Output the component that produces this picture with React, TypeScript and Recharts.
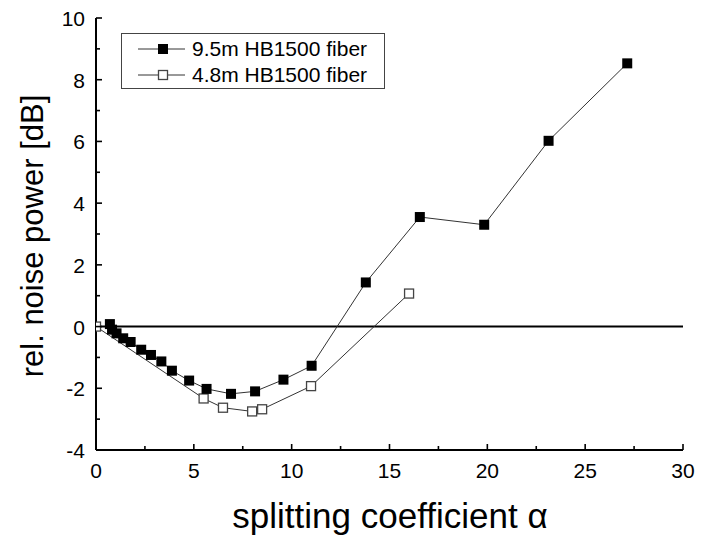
import React from "react";
import { LineChart, Line, XAxis, YAxis, ReferenceLine, Legend } from "recharts";

// splitting coefficient alpha / relative noise power [dB]
const longFiberAlpha = [0.71, 0.82, 1.05, 1.39, 1.77, 2.31, 2.81, 3.34, 3.88, 4.76, 5.65, 6.9, 8.13, 9.58, 11.02, 13.79, 16.55, 19.84, 23.13, 27.15];
const longFiberNoise = [0.08, -0.1, -0.22, -0.38, -0.5, -0.75, -0.92, -1.13, -1.43, -1.75, -2.02, -2.18, -2.1, -1.72, -1.27, 1.43, 3.55, 3.3, 6.02, 8.53];
const shortFiberAlpha = [0, 5.5, 6.49, 7.98, 8.49, 10.99, 16.0];
const shortFiberNoise = [0, -2.33, -2.63, -2.75, -2.68, -1.93, 1.07];

const X_TICKS = [0, 2.5, 5, 7.5, 10, 12.5, 15, 17.5, 20, 22.5, 25, 27.5, 30];
const Y_TICKS = [-4, -3, -2, -1, 0, 1, 2, 3, 4, 5, 6, 7, 8, 9, 10];

const SERIES_NAMES = ["9.5m HB1500 fiber", "4.8m HB1500 fiber"];

const longFiber = longFiberAlpha.map((x, i) => ({ x, y: longFiberNoise[i] }));
const shortFiber = shortFiberAlpha.map((x, i) => ({ x, y: shortFiberNoise[i] }));

const FONT = '"Liberation Sans", Arial, Helvetica, sans-serif';

const FilledSquare = (props: any) => {
  const { cx, cy } = props;
  if (cx == null || cy == null) return null;
  return <rect x={cx - 5} y={cy - 5} width={10} height={10} fill="#000" />;
};

const OpenSquare = (props: any) => {
  const { cx, cy } = props;
  if (cx == null || cy == null) return null;
  return <rect x={cx - 4.5} y={cy - 4.5} width={9} height={9} fill="#fff" stroke="#444" strokeWidth={1.3} />;
};

// ticks point inward; labels only on major ticks
const BottomTick = (props: any) => {
  const { x, y, payload } = props;
  const major = payload.value % 5 === 0;
  const len = major ? 6 : 4;
  return (
    <g>
      <path d={`M${x},${y}V${y - len}`} stroke="#000" strokeWidth={1.6} fill="none" />
      {major && (
        <text x={x} y={y + 28} textAnchor="middle" fontSize={21} fontFamily={FONT} fill="#000">
          {payload.value}
        </text>
      )}
    </g>
  );
};

const TopTick = (props: any) => {
  const { x, y, payload } = props;
  const len = payload.value % 5 === 0 ? 6 : 4;
  return <path d={`M${x},${y}V${Number(y) + len}`} stroke="#000" strokeWidth={1.6} fill="none" />;
};

const LeftTick = (props: any) => {
  const { x, y, payload } = props;
  const major = payload.value % 2 === 0;
  const len = major ? 6 : 4;
  return (
    <g>
      <path d={`M${x},${y}H${Number(x) + len}`} stroke="#000" strokeWidth={1.6} fill="none" />
      {major && (
        <text x={x - 11} y={Number(y) + 8} textAnchor="end" fontSize={21} fontFamily={FONT} fill="#000">
          {payload.value}
        </text>
      )}
    </g>
  );
};

const RightTick = (props: any) => {
  const { x, y, payload } = props;
  const len = payload.value % 2 === 0 ? 6 : 4;
  return <path d={`M${x},${y}H${x - len}`} stroke="#000" strokeWidth={1.6} fill="none" />;
};

const renderLegend = () => (
  <div
    style={{
      width: 264,
      height: 56,
      border: "1px solid #444",
      background: "#fff",
      fontFamily: FONT,
      fontSize: 21,
      color: "#000",
      boxSizing: "border-box",
    }}
  >
    {SERIES_NAMES.map((name, i) => (
      <div key={name} style={{ display: "flex", alignItems: "center", height: 26, marginTop: i === 0 ? 2 : 0 }}>
        <svg width={70} height={26} style={{ display: "block" }}>
          <line x1={16} y1={13} x2={63} y2={13} stroke="#333" strokeWidth={1} />
          {i === 0 ? (
            <rect x={36} y={8} width={10} height={10} fill="#000" />
          ) : (
            <rect x={36.5} y={8.5} width={9} height={9} fill="#fff" stroke="#444" strokeWidth={1.3} />
          )}
        </svg>
        <span style={{ lineHeight: "26px" }}>{name}</span>
      </div>
    ))}
  </div>
);

const XTitle = () => (
  <text x={390} y={528} textAnchor="middle" fontSize={35} fontFamily={FONT} fill="#000">
    splitting coefficient α
  </text>
);

const YTitle = () => (
  <text
    x={43}
    y={236}
    transform="rotate(-90 43 236)"
    textAnchor="middle"
    fontSize={31}
    fontFamily={FONT}
    fill="#000"
  >
    rel. noise power [dB]
  </text>
);

export default function App() {
  return (
    <div style={{ position: "absolute", left: 0, top: 0, background: "#fff" }}>
      <LineChart width={701} height={539} margin={{ top: 18, right: 18, bottom: 0, left: 0 }}>
        <XAxis
          dataKey="x"
          type="number"
          domain={[0, 30]}
          allowDataOverflow
          ticks={X_TICKS}
          interval={0}
          height={89}
          tickSize={0}
          tickMargin={0}
          tickLine={false}
          tick={<BottomTick />}
          axisLine={{ stroke: "#000", strokeWidth: 2 }}
          label={<XTitle />}
        />
        <XAxis
          xAxisId="top"
          orientation="top"
          dataKey="x"
          type="number"
          domain={[0, 30]}
          allowDataOverflow
          ticks={X_TICKS}
          interval={0}
          height={0}
          tickSize={0}
          tickMargin={0}
          tickLine={false}
          tick={<TopTick />}
          axisLine={{ stroke: "#000", strokeWidth: 2 }}
        />
        <YAxis
          dataKey="y"
          type="number"
          domain={[-4, 10]}
          allowDataOverflow
          ticks={Y_TICKS}
          interval={0}
          width={96}
          tickSize={0}
          tickMargin={0}
          tickLine={false}
          tick={<LeftTick />}
          axisLine={{ stroke: "#000", strokeWidth: 2 }}
          label={<YTitle />}
        />
        <YAxis
          yAxisId="right"
          orientation="right"
          dataKey="y"
          type="number"
          domain={[-4, 10]}
          allowDataOverflow
          ticks={Y_TICKS}
          interval={0}
          width={0}
          tickSize={0}
          tickMargin={0}
          tickLine={false}
          tick={<RightTick />}
          axisLine={{ stroke: "#000", strokeWidth: 2 }}
        />
        <ReferenceLine y={0} stroke="#000" strokeWidth={2} />
        <Legend
          layout="vertical"
          align="center"
          verticalAlign="middle"
          content={renderLegend}
          wrapperStyle={{ top: 33, left: 121, width: 264, height: 56 }}
        />
        {/* invisible series so the mirrored top/right axes get drawn */}
        <Line
          data={longFiber}
          xAxisId="top"
          yAxisId="right"
          dataKey="y"
          stroke="none"
          dot={false}
          activeDot={false}
          legendType="none"
          isAnimationActive={false}
        />
        <Line
          data={shortFiber}
          dataKey="y"
          name={SERIES_NAMES[1]}
          stroke="#333"
          strokeWidth={1}
          dot={<OpenSquare />}
          activeDot={false}
          isAnimationActive={false}
        />
        <Line
          data={longFiber}
          dataKey="y"
          name={SERIES_NAMES[0]}
          stroke="#333"
          strokeWidth={1}
          dot={<FilledSquare />}
          activeDot={false}
          isAnimationActive={false}
        />
      </LineChart>
    </div>
  );
}
